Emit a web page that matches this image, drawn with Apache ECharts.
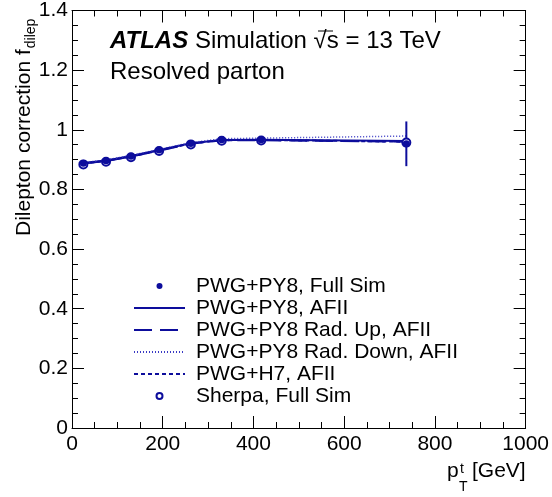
<!DOCTYPE html>
<html>
<head>
<meta charset="utf-8">
<script src="https://cdn.jsdelivr.net/npm/echarts@6/dist/echarts.min.js"></script>
<style>
  html, body { margin: 0; padding: 0; background: #fff; }
  #chart { width: 552px; height: 497px; }
</style>
</head>
<body>
<div id="chart"></div>
<script>
  // 数据：bin 中心 (GeV) 与各样本的 f_dilep
  const ptCenters = [25, 75, 130, 192, 262, 330, 417, 737];
  const fullSim = [0.888, 0.896, 0.911, 0.932, 0.954, 0.967, 0.967, 0.953];
  const fullSimErr = [0.005, 0.005, 0.005, 0.005, 0.006, 0.007, 0.012, 0.075];
  const afii = [0.889, 0.897, 0.912, 0.932, 0.955, 0.966, 0.967, 0.962];
  const radUp = [0.887, 0.895, 0.910, 0.930, 0.953, 0.965, 0.965, 0.960];
  const radDown = [0.890, 0.899, 0.914, 0.934, 0.957, 0.970, 0.972, 0.979];
  const h7 = [0.887, 0.896, 0.910, 0.931, 0.954, 0.965, 0.966, 0.960];
  const sherpa = [0.884, 0.893, 0.908, 0.929, 0.951, 0.963, 0.964, 0.957];

  const names = [
    'PWG+PY8, Full Sim',
    'PWG+PY8, AFII',
    'PWG+PY8 Rad. Up, AFII',
    'PWG+PY8 Rad. Down, AFII',
    'PWG+H7, AFII',
    'Sherpa, Full Sim'
  ];

  const dark = '#0d0d9c';
  const light = '#3a3ac4';
  const font = "'Liberation Sans', Arial, sans-serif";

  const pair = (ys) => ptCenters.map((x, i) => [x, ys[i]]);

  const chart = echarts.init(document.getElementById('chart'));

  const axisCommon = {
    axisLine: { show: true, onZero: false, lineStyle: { color: '#000', width: 1 } },
    axisTick: { show: true, inside: true, length: 12, lineStyle: { color: '#000' } },
    minorTick: { show: true, splitNumber: 4, length: 6, lineStyle: { color: '#000' } },
    splitLine: { show: false },
    minorSplitLine: { show: false }
  };

  const option = {
    animation: false,
    backgroundColor: '#fff',
    grid: { left: 72, right: 24, top: 10, bottom: 69 },
    xAxis: [
      Object.assign({
        type: 'value', min: 0, max: 1000, interval: 200, position: 'bottom',
        axisLabel: { color: '#000', fontSize: 21, fontFamily: font, margin: 6, formatter: (v) => String(v) }
      }, axisCommon),
      Object.assign({
        type: 'value', min: 0, max: 1000, interval: 200, position: 'top',
        axisLabel: { show: false }
      }, axisCommon)
    ],
    yAxis: [
      Object.assign({
        type: 'value', min: 0, max: 1.4, interval: 0.2, position: 'left',
        axisLabel: { color: '#000', fontSize: 21, fontFamily: font, margin: 4 }
      }, axisCommon),
      Object.assign({
        type: 'value', min: 0, max: 1.4, interval: 0.2, position: 'right',
        axisLabel: { show: false }
      }, axisCommon)
    ],
    legend: {
      orient: 'vertical',
      left: 133,
      top: 275,
      padding: 0,
      itemWidth: 51,
      itemHeight: 6,
      itemGap: 0,
      textStyle: { fontSize: 21, lineHeight: 22, fontFamily: font, color: '#000', padding: [0, 0, 0, 6] },
      data: names.map((n, i) => (i === 0 || i === 5) ? { name: n } : { name: n, itemStyle: { opacity: 0 } })
    },
    graphic: [
      {
        type: 'text', left: 110, top: 29,
        style: {
          text: '{b|ATLAS} Simulation √s = 13 TeV',
          font: '24px ' + font, fill: '#000',
          rich: {
            b: { fontWeight: 'bold', fontStyle: 'italic', fontSize: 24, fontFamily: font }
          }
        }
      },
      // overline over "s"
      { type: 'line', shape: { x1: 318, y1: 31, x2: 333, y2: 31 }, style: { stroke: '#000', lineWidth: 1 } },
      {
        type: 'text', left: 110, top: 60,
        style: { text: 'Resolved parton', font: '24px ' + font, fill: '#000' }
      },
      {
        type: 'text', x: 447, y: 461,
        style: { text: 'p', font: '21px ' + font, fill: '#000' }
      },
      {
        type: 'text', x: 460, y: 462,
        style: { text: 't', font: '14px ' + font, fill: '#000' }
      },
      {
        type: 'text', x: 459, y: 480,
        style: { text: 'T', font: '14px ' + font, fill: '#000' }
      },
      {
        type: 'text', x: 472, y: 461,
        style: { text: '[GeV]', font: '21px ' + font, fill: '#000' }
      },
      {
        type: 'text', x: 10, y: 236, rotation: Math.PI / 2,
        style: {
          text: 'Dilepton correction f{d|dilep}',
          font: '21px ' + font, fill: '#000',
          rich: {
            d: { fontSize: 14, fontFamily: font, padding: [14, 0, 0, 1] }
          }
        }
      }
    ],
    series: [
      {
        name: names[0], type: 'scatter', data: pair(fullSim),
        symbol: 'circle', symbolSize: 7, itemStyle: { color: dark, opacity: 1 }, z: 7
      },
      {
        name: 'err', type: 'custom',
        data: ptCenters.map((x, i) => [x, fullSim[i] - fullSimErr[i], fullSim[i] + fullSimErr[i]]),
        renderItem: function (params, api) {
          const lo = api.coord([api.value(0), api.value(1)]);
          const hi = api.coord([api.value(0), api.value(2)]);
          return {
            type: 'line',
            shape: { x1: lo[0], y1: lo[1], x2: hi[0], y2: hi[1] },
            style: { stroke: dark, lineWidth: 2 }
          };
        },
        z: 4
      },
      {
        name: names[1], type: 'line', data: pair(afii), symbol: 'none',
        lineStyle: { color: dark, width: 2, type: 'solid' }, itemStyle: { color: dark }
      },
      {
        name: names[2], type: 'line', data: pair(radUp), symbol: 'none',
        lineStyle: { color: dark, width: 2, type: [18, 8] }, itemStyle: { color: dark }
      },
      {
        name: names[3], type: 'line', data: pair(radDown), symbol: 'none',
        lineStyle: { color: light, width: 1.5, type: [1, 2] }, itemStyle: { color: light }
      },
      {
        name: names[4], type: 'line', data: pair(h7), symbol: 'none',
        lineStyle: { color: dark, width: 2, type: [4, 3] }, itemStyle: { color: dark }
      },
      {
        name: names[5], type: 'scatter', data: pair(sherpa),
        symbol: 'emptyCircle', symbolSize: 8,
        itemStyle: { color: dark, borderColor: dark, borderWidth: 1.5, opacity: 1 }, z: 6
      }
    ]
  };

  chart.setOption(option);
</script>
</body>
</html>
